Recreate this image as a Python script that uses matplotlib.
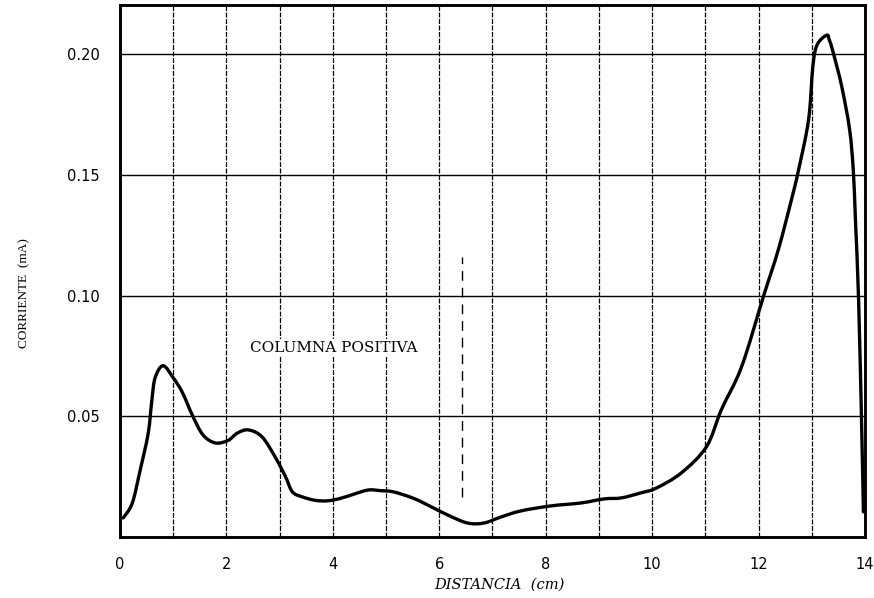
import matplotlib
matplotlib.use("Agg")
import matplotlib.pyplot as plt
from matplotlib.path import Path
from matplotlib.patches import PathPatch

# Current profile along the discharge tube
distancia = [0.06, 0.23, 0.38, 0.53, 0.60, 0.66, 0.81, 1.00, 1.17, 1.37, 1.56, 1.79,
             2.03, 2.20, 2.41, 2.67, 2.92, 3.11, 3.24, 3.43, 3.67, 3.90, 4.14, 4.40,
             4.67, 4.90, 5.14, 5.52, 5.85, 6.16, 6.53, 6.84, 7.16, 7.53, 8.10, 8.66,
             9.10, 9.42, 9.79, 10.08, 10.55, 11.02, 11.30, 11.68, 12.09, 12.37, 12.62,
             12.75, 12.94, 13.02, 13.10, 13.28, 13.33, 13.40, 13.56, 13.71, 13.78,
             13.82, 13.88, 13.94, 13.97]
corriente = [0.0079, 0.0140, 0.0278, 0.0430, 0.0570, 0.0660, 0.0710, 0.0660, 0.0600,
             0.0500, 0.0423, 0.0390, 0.0400, 0.0430, 0.0444, 0.0415, 0.0330, 0.0250,
             0.0187, 0.0166, 0.0152, 0.0150, 0.0160, 0.0178, 0.0195, 0.0192, 0.0187,
             0.0160, 0.0125, 0.0091, 0.0058, 0.0058, 0.0083, 0.0108, 0.0129, 0.0141,
             0.0158, 0.0162, 0.0183, 0.0203, 0.0266, 0.0374, 0.0527, 0.0705, 0.0996,
             0.1190, 0.1400, 0.1520, 0.1730, 0.1950, 0.2040, 0.2080, 0.2060, 0.2010,
             0.1870, 0.1690, 0.1520, 0.1315, 0.0980, 0.0430, 0.0104]

# Boundary of the positive column
limite_x = 6.43
limite_y = [0.0167, 0.116]

xticks = [0, 2, 4, 6, 8, 10, 12, 14]
yticks = [0.05, 0.10, 0.15, 0.20]
ytick_labels = ["0.05", "0.10", "0.15", "0.20"]


def smooth_path(xs, ys):
    """Cubic Bezier path passing through every point (Catmull-Rom tangents)."""
    pts = list(zip(xs, ys))
    n = len(pts)
    verts = [pts[0]]
    codes = [Path.MOVETO]
    for i in range(n - 1):
        p0 = pts[i - 1] if i > 0 else pts[i]
        p1 = pts[i]
        p2 = pts[i + 1]
        p3 = pts[i + 2] if i + 2 < n else pts[i + 1]
        c1 = (p1[0] + (p2[0] - p0[0]) / 6.0, p1[1] + (p2[1] - p0[1]) / 6.0)
        c2 = (p2[0] - (p3[0] - p1[0]) / 6.0, p2[1] - (p3[1] - p1[1]) / 6.0)
        verts += [c1, c2, p2]
        codes += [Path.CURVE4] * 3
    return Path(verts, codes)


fig = plt.figure(figsize=(8.74, 5.98), dpi=100)
ax = fig.add_axes([0.1373, 0.102, 0.8524, 0.8896])

ax.set_xlim(0, 14)
ax.set_ylim(0, 0.2205)

# hand-ruled grid
for xv in range(1, 14):
    ax.axvline(xv, color="black", lw=0.9, ls=(0, (4, 1.2)), zorder=1)
for yv in yticks:
    ax.axhline(yv, color="black", lw=1.0, zorder=1)

curve = PathPatch(smooth_path(distancia, corriente), fill=False, edgecolor="black",
                  lw=2.4, capstyle="round", joinstyle="round",
                  transform=ax.transData, zorder=3)
ax.add_patch(curve)

ax.plot([limite_x, limite_x], limite_y, color="black", lw=1.0,
        ls=(0, (7, 5)), zorder=2)

ax.text(4.02, 0.0784, "COLUMNA POSITIVA", family="DejaVu Serif", fontsize=11,
        ha="center", va="center", zorder=4,
        bbox=dict(facecolor="white", edgecolor="none", pad=1.5))

ax.set_xticks(xticks)
ax.set_xticklabels([str(v) for v in xticks], family="DejaVu Sans", fontsize=10.5)
ax.set_yticks(yticks)
ax.set_yticklabels(ytick_labels, family="DejaVu Sans", fontsize=10.5)
ax.tick_params(length=0)
ax.tick_params(axis="y", pad=14.5)
ax.tick_params(axis="x", pad=14.5)

for s in ax.spines.values():
    s.set_linewidth(2.1)

ax.set_xlabel("DISTANCIA  (cm)", family="DejaVu Serif", style="italic",
              fontsize=10.5)
ax.xaxis.set_label_coords(0.509, -0.077)
ax.set_ylabel("CORRIENTE  (mA)", family="Liberation Serif", fontsize=9.5)
ax.yaxis.set_label_coords(-0.121, 0.4585)

fig.savefig("out.png", dpi=100)
